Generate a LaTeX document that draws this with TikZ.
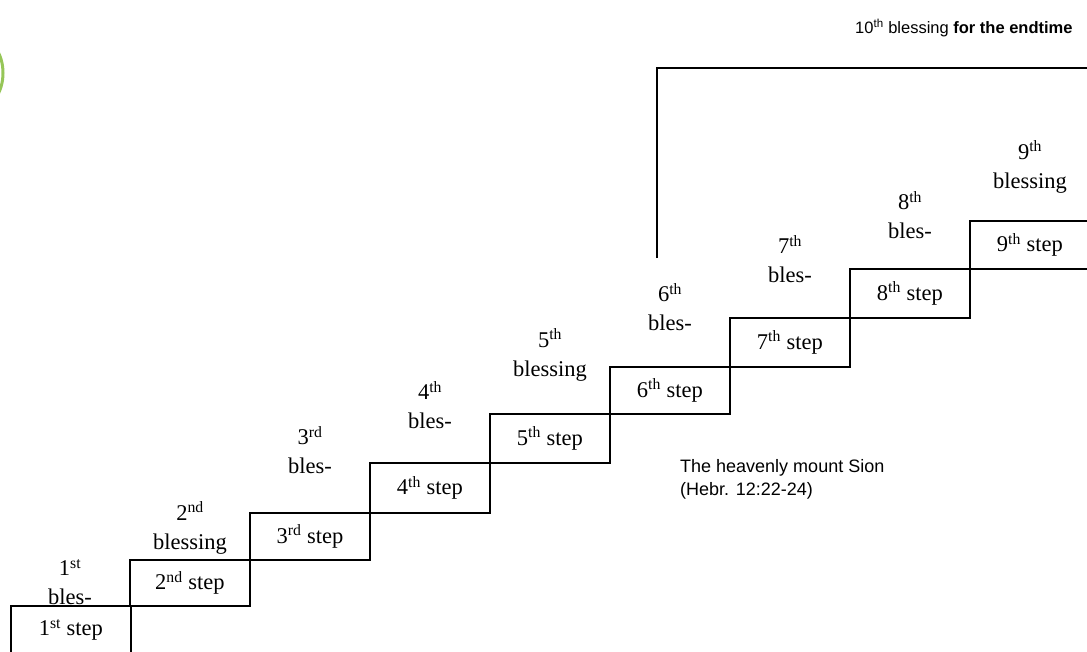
\documentclass[tikz,border=0pt]{standalone}
\usepackage{fontspec}
\setmainfont{Liberation Serif}
\newfontfamily\arialf{Liberation Sans}
\definecolor{arcgreen}{RGB}{150,198,88}
\begin{document}
\begin{tikzpicture}[x=1pt,y=-1pt,
  stepbox/.style={draw, line width=1.8pt, minimum width=120pt, inner sep=0pt,
    font=\fontsize{22.5}{25}\selectfont, anchor=north west},
  blesslabel/.style={align=center, font=\fontsize{22.5}{29}\selectfont, inner sep=0pt},
  sanslabel/.style={font=\arialf\fontsize{18}{23}\selectfont, align=left, inner sep=0pt, anchor=west},
  bracketline/.style={draw, line width=1.8pt}]
\useasboundingbox (0,0) rectangle (1087,651);
% green arc at left edge
\draw[arcgreen, line width=3pt] (-20,73) ellipse (23 and 34);
% steps
\node[stepbox, minimum height=48pt] (s1) at (10,605) {1\textsuperscript{st} step};
\node[stepbox, minimum height=46pt] (s2) at (129,559) {2\textsuperscript{nd} step};
\node[stepbox, minimum height=47pt] (s3) at (249,512) {3\textsuperscript{rd} step};
\node[stepbox, minimum height=50pt] (s4) at (369,462) {4\textsuperscript{th} step};
\node[stepbox, minimum height=49pt] (s5) at (489,413) {5\textsuperscript{th} step};
\node[stepbox, minimum height=47pt] (s6) at (609,366) {6\textsuperscript{th} step};
\node[stepbox, minimum height=49pt] (s7) at (729,317) {7\textsuperscript{th} step};
\node[stepbox, minimum height=49pt] (s8) at (849,268) {8\textsuperscript{th} step};
\node[stepbox, minimum height=48pt] (s9) at (969,220) {9\textsuperscript{th} step};
% blessing labels
\node[blesslabel] (b1) at (70,582) {1\textsuperscript{st}\\bles-};
\node[blesslabel] (b2) at (190,528) {2\textsuperscript{nd}\\blessing};
\node[blesslabel] (b3) at (310,450) {3\textsuperscript{rd}\\bles-};
\node[blesslabel] (b4) at (430,405) {4\textsuperscript{th}\\bles-};
\node[blesslabel] (b5) at (550,355) {5\textsuperscript{th}\\blessing};
\node[blesslabel] (b6) at (670,307) {6\textsuperscript{th}\\bles-};
\node[blesslabel] (b7) at (790,259) {7\textsuperscript{th}\\bles-};
\node[blesslabel] (b8) at (910,215) {8\textsuperscript{th}\\bles-};
\node[blesslabel] (b9) at (1030,167) {9\textsuperscript{th}\\blessing};
% bracket for 10th blessing
\coordinate (k1) at (657,258);
\coordinate (k2) at (657,68);
\coordinate (k3) at (1092,68);
\draw[bracketline] (k1) -- (k2) -- (k3);
\node[sanslabel, font=\arialf\fontsize{16.5}{20}\selectfont] (t10) at (855,28) {10\textsuperscript{th} blessing \textbf{for the endtime}};
\node[sanslabel] (sion) at (680,479.5) {The heavenly mount Sion\\(Hebr. 12:22-24)};
\end{tikzpicture}
\end{document}
